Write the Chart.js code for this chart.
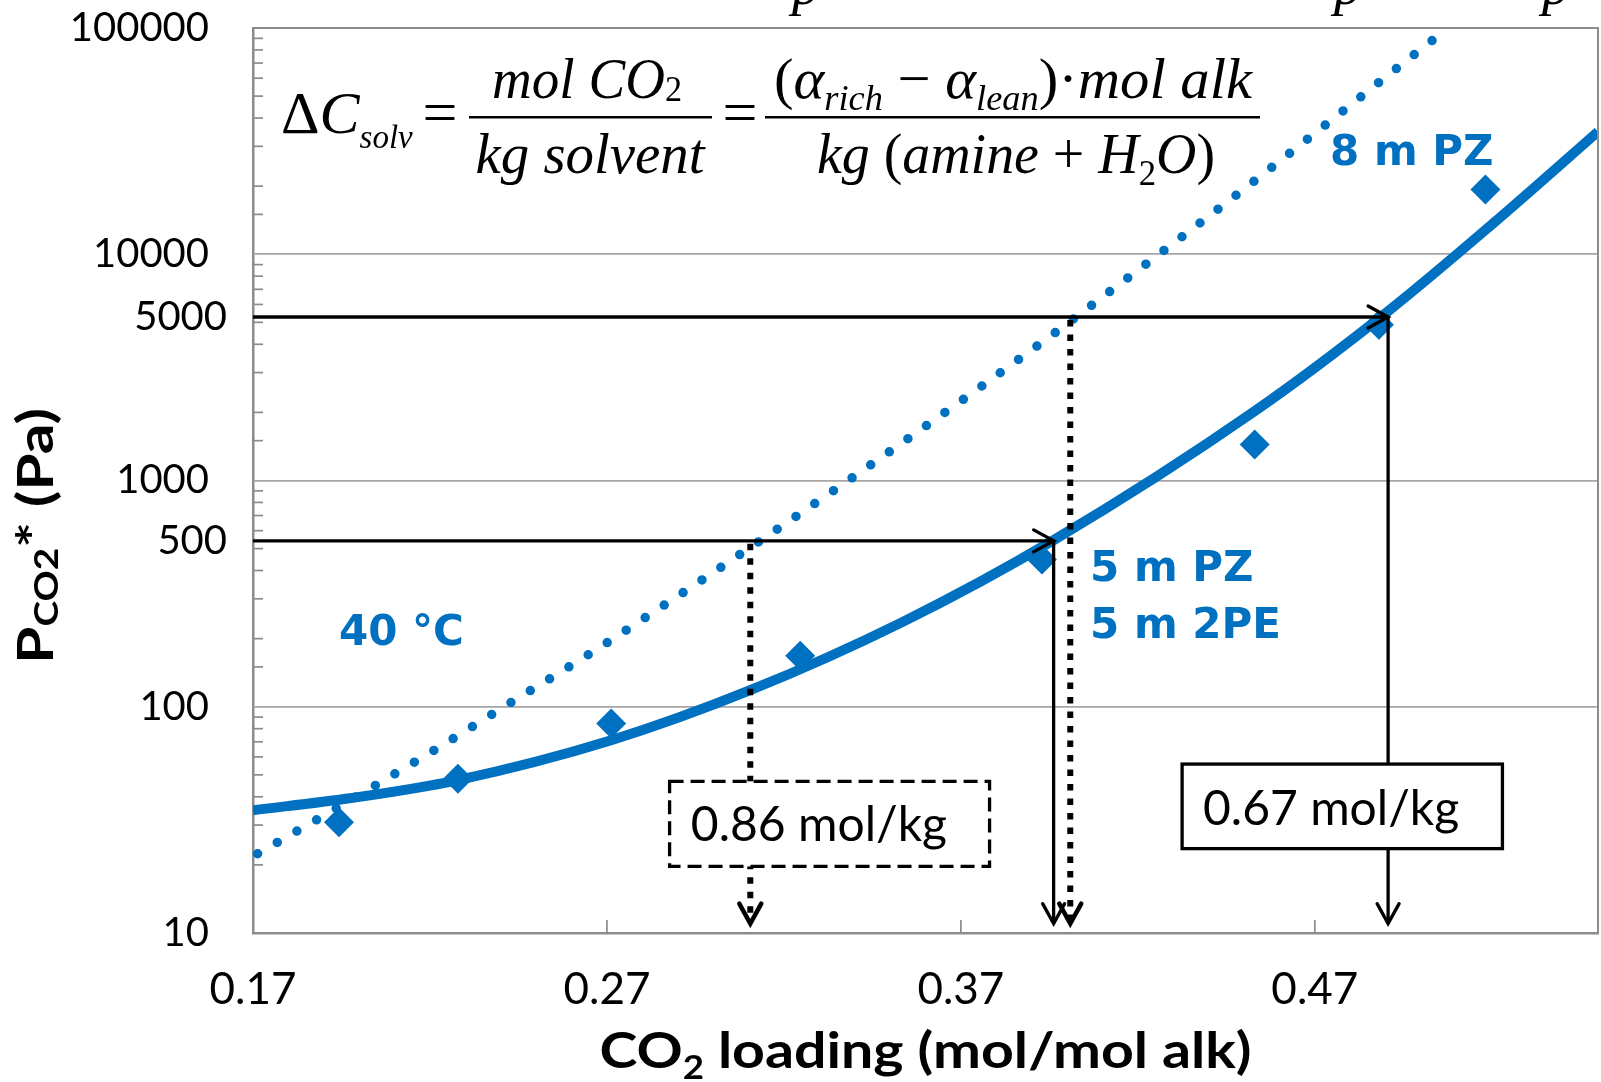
<!DOCTYPE html>
<html>
<head>
<meta charset="utf-8">
<script src="https://cdn.jsdelivr.net/npm/chart.js@4.4.1/dist/chart.umd.min.js"></script>
<style>
  html, body { margin: 0; padding: 0; background: #fff; }
  #wrap { width: 1601px; height: 1082px; }
</style>
</head>
<body>
<div id="wrap"><canvas id="vleChart" width="1601" height="1082"></canvas></div>
<script>
// measured points (diamonds), 40 C
var loading = [0.1943, 0.2279, 0.2712, 0.3246, 0.3929, 0.4530, 0.4881, 0.5182];
var pco2 = [30.9, 48.1, 84.3, 168, 447, 1444, 4875, 19340];

// fitted curve for 5 m PZ / 5 m 2PE (solid)
var fitLoading = [0.170, 0.1973, 0.2276, 0.2712, 0.3103, 0.3533, 0.3962, 0.4530, 0.4907, 0.5208, 0.550];
var fitPco2 = [34.9, 39.4, 47.3, 71.1, 118, 236, 545, 2025, 5600, 13870, 34800];

// 8 m PZ curve (dotted)
var pzLoading = [0.1713, 0.1990, 0.2210, 0.2427, 0.2645, 0.2858, 0.3073, 0.3338, 0.3547, 0.3756, 0.3963, 0.4066, 0.4496, 0.4925, 0.5076];
var pzPco2 = [22.4, 39.9, 64.0, 104, 169, 279, 468, 897, 1518, 2594, 4466, 5897, 19210, 65150, 100000];

var xTicks = [0.17, 0.27, 0.37, 0.47];
var yTicks = [10, 100, 1000, 10000, 100000];

// lean / rich read-off lines
var guideLevels = [541, 5280];
var guideLabels = ['500', '5000'];
var guideSolidAt = [0.3962, 0.4907];
var guideDottedAt = [0.3105, 0.4009];
var capacityText = ['0.86 mol/kg', '0.67 mol/kg'];

var blue = '#0070C0';
var frameGrey = '#8c8c8c';
var gridGrey = '#a6a6a6';
var sans = 'Lato, "Open Sans", sans-serif';
var serif = '"Liberation Serif", "Times New Roman", serif';

function pts(xs, ys) {
    return xs.map(function (x, i) { return { x: x, y: ys[i] }; });
}

function isDecade(v) {
    var l = Math.log10(v);
    return Math.abs(l - Math.round(l)) < 1e-9;
}

function F(size, italic) {
    return (italic ? 'italic ' : '') + size + 'px ' + serif;
}

// draws a row of [text, font, dy] pieces; fitW squeezes/stretches to a width
function drawRuns(ctx, runs, x, y, align, fitW) {
    var w = 0;
    runs.forEach(function (r) {
        ctx.font = r[1];
        r.w = ctx.measureText(r[0]).width;
        w += r.w;
    });
    var sx = fitW ? fitW / w : 1;
    ctx.save();
    ctx.translate(x, y);
    ctx.scale(sx, 1);
    var cx = align === 'center' ? -w / 2 : 0;
    ctx.textAlign = 'left';
    ctx.textBaseline = 'alphabetic';
    runs.forEach(function (r) {
        ctx.font = r[1];
        ctx.fillText(r[0], cx, r[2] || 0);
        cx += r.w;
    });
    ctx.restore();
}

function arrowHead(ctx, x, y, dir, lw) {
    ctx.save();
    ctx.setLineDash([]);
    ctx.lineWidth = lw;
    ctx.lineCap = 'round';
    ctx.lineJoin = 'miter';
    ctx.beginPath();
    if (dir === 'down') {
        ctx.moveTo(x - 11, y - 20); ctx.lineTo(x, y); ctx.lineTo(x + 11, y - 20);
    } else {
        ctx.moveTo(x - 20, y - 11); ctx.lineTo(x, y); ctx.lineTo(x - 20, y + 11);
    }
    ctx.stroke();
    ctx.restore();
}

var boxes = [
    { x0: 0.2877, x1: 0.3781, y0: 46.8, y1: 19.7, dash: [14, 7], tx: 0.2937, ty: 25.4 },
    { x0: 0.4325, x1: 0.5230, y0: 55.8, y1: 23.6, dash: [], tx: 0.4384, ty: 29.9 }
];

var blueLabels = [
    { text: '40 °C', x: 0.1943, y: 187 },
    { text: '5 m PZ', x: 0.4065, y: 359 },
    { text: '5 m 2PE', x: 0.4065, y: 201 },
    { text: '8 m PZ', x: 0.4743, y: 24770 }
];

var tipP = 11; // arrow tips just above the x axis

var overlay = {
    id: 'overlay',
    afterDatasetsDraw: function (chart) {
        var ctx = chart.ctx;
        var xs = chart.scales.x, ys = chart.scales.y;
        var area = chart.chartArea;

        // frame top / right
        ctx.save();
        ctx.strokeStyle = frameGrey;
        ctx.lineWidth = 2;
        ctx.beginPath();
        ctx.moveTo(area.left, area.top); ctx.lineTo(area.right, area.top); ctx.lineTo(area.right, area.bottom);
        ctx.stroke();

        // minor ticks inside the y axis
        ctx.lineWidth = 1.7;
        ys.ticks.forEach(function (t) {
            if (isDecade(t.value)) return;
            var y = ys.getPixelForValue(t.value);
            ctx.beginPath(); ctx.moveTo(area.left, y); ctx.lineTo(area.left + 10, y); ctx.stroke();
        });
        // x tick marks inside
        xTicks.forEach(function (v, i) {
            if (i === 0) return;
            var x = xs.getPixelForValue(v);
            ctx.beginPath(); ctx.moveTo(x, area.bottom); ctx.lineTo(x, area.bottom - 13); ctx.stroke();
        });
        ctx.restore();

        // read-off lines
        ctx.save();
        ctx.strokeStyle = '#000';
        var yTip = ys.getPixelForValue(tipP);
        guideLevels.forEach(function (lv, i) {
            var y = ys.getPixelForValue(lv);
            var xSolid = xs.getPixelForValue(guideSolidAt[i]);
            var xDot = xs.getPixelForValue(guideDottedAt[i]);

            ctx.setLineDash([]);
            ctx.lineWidth = 3.3;
            ctx.beginPath(); ctx.moveTo(area.left, y); ctx.lineTo(xSolid, y); ctx.stroke();
            arrowHead(ctx, xSolid, y, 'right', 3.3);

            ctx.beginPath(); ctx.moveTo(xSolid, y); ctx.lineTo(xSolid, yTip); ctx.stroke();
            arrowHead(ctx, xSolid, yTip, 'down', 3.3);

            ctx.lineWidth = 6;
            ctx.lineCap = 'butt';
            ctx.setLineDash([6.5, 8]);
            ctx.beginPath(); ctx.moveTo(xDot, y + 3); ctx.lineTo(xDot, yTip - 4); ctx.stroke();
            ctx.setLineDash([]);
            arrowHead(ctx, xDot, yTip, 'down', 4.5);

            ctx.fillStyle = '#000';
            ctx.font = '40px ' + sans;
            ctx.textAlign = 'right';
            ctx.textBaseline = 'middle';
            ctx.fillText(guideLabels[i], area.left - 26, y);
        });

        // capacity boxes
        boxes.forEach(function (b, i) {
            var x0 = xs.getPixelForValue(b.x0), x1 = xs.getPixelForValue(b.x1);
            var y0 = ys.getPixelForValue(b.y0), y1 = ys.getPixelForValue(b.y1);
            ctx.fillStyle = '#fff';
            ctx.fillRect(x0, y0, x1 - x0, y1 - y0);
            ctx.setLineDash(b.dash);
            ctx.lineWidth = 3.3;
            ctx.strokeStyle = '#000';
            ctx.strokeRect(x0, y0, x1 - x0, y1 - y0);
            ctx.setLineDash([]);
            ctx.fillStyle = '#000';
            ctx.font = '48px ' + sans;
            ctx.textAlign = 'left';
            ctx.textBaseline = 'alphabetic';
            ctx.fillText(capacityText[i], xs.getPixelForValue(b.tx), ys.getPixelForValue(b.ty));
        });

        // blue labels
        ctx.fillStyle = blue;
        ctx.font = 'bold 42px "DejaVu Sans", sans-serif';
        ctx.textAlign = 'left';
        ctx.textBaseline = 'alphabetic';
        blueLabels.forEach(function (l) {
            ctx.fillText(l.text, xs.getPixelForValue(l.x), ys.getPixelForValue(l.y));
        });
        ctx.restore();

        // axis titles
        ctx.save();
        ctx.fillStyle = '#000';
        var bold = 'bold 50px ' + sans;
        var boldSub = 'bold 32px ' + sans;
        drawRuns(ctx, [['CO', bold], ['2', boldSub, 11], [' loading (mol/mol alk)', bold]],
            (area.left + area.right) / 2, area.bottom + 135, 'center', 652);
        ctx.translate(53, 536);
        ctx.rotate(-Math.PI / 2);
        drawRuns(ctx, [['P', bold], ['CO2', boldSub, 5], ['*', bold], [' (Pa)', bold]], 0, 0, 'center', 256);
        ctx.restore();

        // equation
        ctx.save();
        ctx.fillStyle = '#000';
        drawRuns(ctx, [['\u0394', F(60)], ['C', F(60, true)], ['solv', F(33, true), 15]], 281, 133, 'left');
        drawRuns(ctx, [['=', F(62)]], 440, 133, 'center');
        drawRuns(ctx, [['=', F(62)]], 740, 133, 'center');
        ctx.fillRect(469, 116, 243, 2.5);
        ctx.fillRect(765, 116, 495, 2.5);
        drawRuns(ctx, [['mol CO', F(58, true)], ['2', F(36), 3]], 587, 98, 'center', 190);
        drawRuns(ctx, [['kg solvent', F(58, true)]], 590, 173, 'center', 229);
        drawRuns(ctx, [['(', F(58)], ['\u03b1', F(58, true)], ['rich', F(36, true), 12], [' \u2212 ', F(58)],
            ['\u03b1', F(58, true)], ['lean', F(36, true), 12], [')', F(58)], ['\u00b7', F(58)], ['mol alk', F(58, true)]],
            1013, 98, 'center', 478);
        drawRuns(ctx, [['kg ', F(58, true)], ['(', F(58)], ['amine', F(58, true)], [' + ', F(58)], ['H', F(58, true)],
            ['2', F(36), 12], ['O', F(58, true)], [')', F(58)]], 1016, 173, 'center', 398);
        // cut-off line of text above the figure
        ctx.font = F(56, true);
        ctx.textAlign = 'center';
        ['p', 'p', 'p'].forEach(function (c, i) {
            ctx.fillText(c, [806, 1348, 1556][i], 4);
        });
        ctx.restore();
    }
};

var ctx = document.getElementById('vleChart').getContext('2d');
var vleChart = new Chart(ctx, {
    type: 'scatter',
    data: {
        datasets: [
            {
                label: 'data',
                data: pts(loading, pco2),
                pointStyle: 'rectRot',
                pointRadius: 15,
                backgroundColor: blue,
                borderWidth: 0,
                showLine: false,
                order: 0
            },
            {
                label: '5 m PZ / 5 m 2PE',
                data: pts(fitLoading, fitPco2),
                showLine: true,
                borderColor: blue,
                borderWidth: 10,
                pointRadius: 0,
                cubicInterpolationMode: 'monotone',
                order: 1
            },
            {
                label: '8 m PZ',
                data: pts(pzLoading, pzPco2),
                showLine: true,
                borderColor: blue,
                borderWidth: 9.5,
                borderDash: [0, 22.7],
                borderCapStyle: 'round',
                pointRadius: 0,
                cubicInterpolationMode: 'monotone',
                order: 2
            }
        ]
    },
    options: {
        responsive: false,
        animation: false,
        devicePixelRatio: 1,
        layout: { autoPadding: false, padding: { top: 28, right: 3, left: 0, bottom: 0 } },
        plugins: {
            legend: { display: false },
            tooltip: { enabled: false }
        },
        scales: {
            x: {
                type: 'linear',
                min: 0.17,
                max: 0.55,
                afterBuildTicks: function (s) {
                    s.ticks = xTicks.map(function (v) { return { value: v }; });
                },
                afterFit: function (s) {
                    s.height = 149;
                    s.paddingLeft = 0;
                    s.paddingRight = 0;
                },
                grid: { display: false, drawTicks: false },
                border: { display: true, color: frameGrey, width: 2.5 },
                ticks: {
                    color: '#000',
                    font: { family: sans, size: 44 },
                    padding: 30,
                    maxRotation: 0,
                    autoSkip: false,
                    callback: function (v) { return Number(v).toFixed(2); }
                }
            },
            y: {
                type: 'logarithmic',
                min: 10,
                max: 100000,
                afterFit: function (s) {
                    s.width = 253;
                    s.paddingTop = 0;
                    s.paddingBottom = 0;
                },
                grid: {
                    drawTicks: false,
                    lineWidth: 1.7,
                    color: function (c) {
                        return c.tick && isDecade(c.tick.value) ? gridGrey : 'rgba(0,0,0,0)';
                    }
                },
                border: { display: true, color: frameGrey, width: 2.5 },
                ticks: {
                    autoSkip: false,
                    color: '#000',
                    padding: 44,
                    font: { family: sans, size: 40 },
                    callback: function (v) {
                        var hit = yTicks.filter(function (t) { return Math.abs(t - v) / t < 1e-6; });
                        return hit.length ? String(hit[0]) : '';
                    }
                }
            }
        }
    },
    plugins: [overlay]
});
</script>
</body>
</html>
